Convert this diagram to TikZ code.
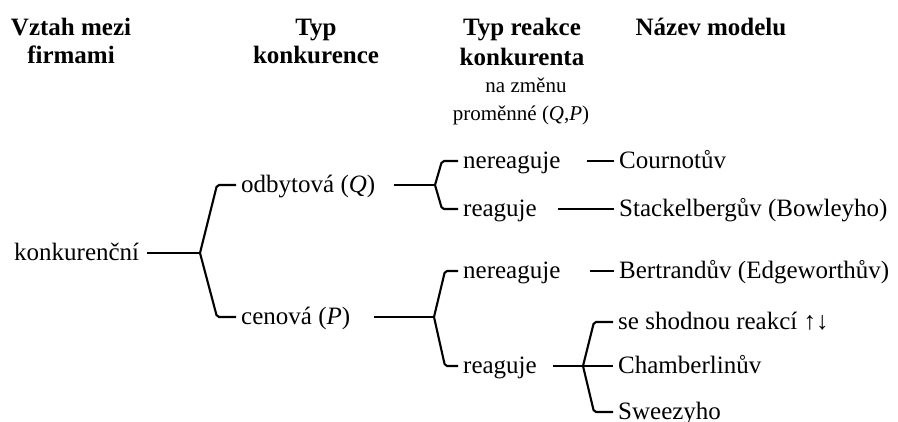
\documentclass[tikz,border=0pt]{standalone}
\usepackage{fontspec}
\setmainfont{Liberation Serif}
\begin{document}
\begin{tikzpicture}[x=1pt,y=-1pt,
  hdr/.style={anchor=base,inner sep=0pt,font=\fontsize{25}{28}\selectfont\bfseries},
  sub/.style={anchor=base,inner sep=0pt,font=\fontsize{21}{28}\selectfont},
  tn/.style={anchor=west,inner xsep=5pt,inner ysep=0pt,text height=20pt,text depth=6pt,font=\fontsize{25}{28}\selectfont},
  conn/.style={line width=2.1pt,rounded corners=2pt},
]
\useasboundingbox (0,0) rectangle (898,421);
% headers
\node[hdr] (h1a) at (71,35) {Vztah mezi};
\node[hdr] (h1b) at (71,63) {firmami};
\node[hdr] (h2a) at (316,35) {Typ};
\node[hdr] (h2b) at (316,63) {konkurence};
\node[hdr] (h3a) at (522,35) {Typ reakce};
\node[hdr] (h3b) at (522,65) {konkurenta};
\node[sub] (h3c) at (526,92) {na změnu};
\node[sub] (h3d) at (521,120) {proměnné (\textit{Q},\textit{P})};
\node[hdr] (h4a) at (711,35) {Název modelu};
% tree nodes
\node[tn] (konk) at (9,253) {konkurenční};
\node[tn] (odb) at (236,185) {odbytová (\textit{Q})};
\node[tn] (cen) at (236,317) {cenová (\textit{P})};
\node[tn] (ner1) at (458,161) {nereaguje};
\node[tn] (rea1) at (458,209) {reaguje};
\node[tn] (ner2) at (458,271) {nereaguje};
\node[tn] (rea2) at (458,366) {reaguje};
\node[tn] (cour) at (614,161) {Cournotův};
\node[tn] (stack) at (614,209) {Stackelbergův (Bowleyho)};
\node[tn] (bert) at (614,271) {Bertrandův (Edgeworthův)};
\node[tn] (shod) at (613,322) {se shodnou reakcí ↑↓};
\node[tn] (cham) at (613,366) {Chamberlinův};
\node[tn] (swe) at (613,412) {Sweezyho};
% branch points
\coordinate (v1) at (200,253);
\coordinate (v2) at (435,185);
\coordinate (v3) at (434,317);
\coordinate (v4) at (583,366);
% connectors
\draw[conn,shorten <=3pt] (konk.east) -- (v1);
\draw[conn] (v1) -- (217,185) -- (odb.west);
\draw[conn] (v1) -- (217,317) -- (cen.west);
\draw[conn,shorten <=14pt] (odb.east) -- (v2);
\draw[conn] (v2) -- (442,161) -- (ner1.west);
\draw[conn] (v2) -- (442,209) -- (rea1.west);
\draw[conn,shorten <=19pt] (cen.east) -- (v3);
\draw[conn] (v3) -- (445,271) -- (ner2.west);
\draw[conn] (v3) -- (445,366) -- (rea2.west);
\draw[conn,shorten <=21pt] (ner1.east) -- (cour.west);
\draw[conn,shorten <=16pt] (rea1.east) -- (stack.west);
\draw[conn,shorten <=24pt] (ner2.east) -- (bert.west);
\draw[conn,shorten <=11pt] (rea2.east) -- (v4);
\draw[conn] (v4) -- (594,322) -- (shod.west);
\draw[conn] (v4) -- (cham.west);
\draw[conn] (v4) -- (594,412) -- (swe.west);
\end{tikzpicture}
\end{document}
